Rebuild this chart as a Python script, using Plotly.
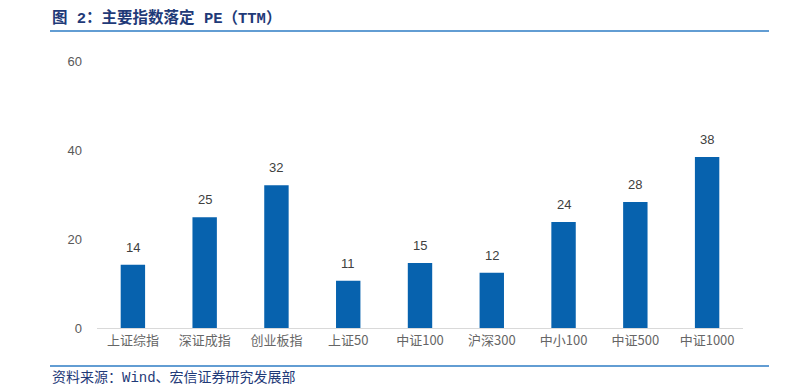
import plotly.graph_objects as go

categories = ["上证综指", "深证成指", "创业板指", "上证50", "中证100", "沪深300", "中小100", "中证500", "中证1000"]
pe_values = [14.2, 24.9, 32.1, 10.6, 14.6, 12.4, 23.8, 28.3, 38.4]
y_ticks = [0, 20, 40, 60]

title_text = "<b>图 2：主要指数落定 PE（TTM）</b>"
source_text = "资料来源：Wind、宏信证券研究发展部"

W, H = 789, 390
L, R, T, B = 97, 46, 61, 62
HEAD_FONT = "Liberation Mono, DejaVu Sans Mono, Noto Sans CJK SC, monospace"

fig = go.Figure()
fig.add_trace(go.Bar(
    x=categories, y=pe_values,
    marker=dict(color="#0762AE", line=dict(width=0)),
    width=0.34,
    hoverinfo="x+y",
))

annotations = [
    dict(x=c, y=v, xref="x", yref="y", text=f"{v:.0f}", showarrow=False,
         yanchor="bottom", yshift=8,
         font=dict(family="Liberation Sans, Arial, sans-serif", size=13, color="#404040"))
    for c, v in zip(categories, pe_values)
]
annotations += [
    dict(text=title_text, xref="paper", yref="paper",
         x=-(L - 50) / (W - L - R), y=1 + (T - 18) / (H - T - B),
         xanchor="left", yanchor="middle", showarrow=False,
         font=dict(family=HEAD_FONT, size=15.5, color="#1F3A78")),
    dict(text=source_text, xref="paper", yref="paper",
         x=-(L - 50) / (W - L - R), y=-(378 - (H - B)) / (H - T - B),
         xanchor="left", yanchor="middle", showarrow=False,
         font=dict(family=HEAD_FONT, size=14, color="#1F3A78")),
]

fig.update_layout(
    width=W, height=H,
    margin=dict(l=L, r=R, t=T, b=B),
    paper_bgcolor="white", plot_bgcolor="white",
    showlegend=False,
    font=dict(family="Noto Sans CJK SC, sans-serif"),
    xaxis=dict(
        showgrid=False, showline=True, linecolor="#D9D9D9", linewidth=1,
        ticks="", tickfont=dict(family="Noto Sans CJK SC, sans-serif", size=13, color="#666666"),
        fixedrange=True,
    ),
    yaxis=dict(
        range=[0, 60], tickvals=y_ticks, showgrid=False, zeroline=False, showline=False,
        ticks="", ticklabelstandoff=14,
        tickfont=dict(family="Liberation Sans, Arial, sans-serif", size=13, color="#595959"),
        fixedrange=True,
    ),
    annotations=annotations,
    shapes=[
        dict(type="line", xref="paper", yref="paper",
             x0=-(L - 50) / (W - L - R), x1=1 + (R - 20) / (W - L - R),
             y0=1 + (T - 31) / (H - T - B), y1=1 + (T - 31) / (H - T - B),
             line=dict(color="#2E7CC4", width=1.5)),
        dict(type="line", xref="paper", yref="paper",
             x0=-(L - 50) / (W - L - R), x1=1 + (R - 20) / (W - L - R),
             y0=-(366 - (H - B)) / (H - T - B), y1=-(366 - (H - B)) / (H - T - B),
             line=dict(color="#2E7CC4", width=1.5)),
    ],
)

fig.write_html(
    "out.html",
    config={"displayModeBar": False},
    post_script="document.body.style.margin='0';document.body.style.overflow='hidden';",
)
